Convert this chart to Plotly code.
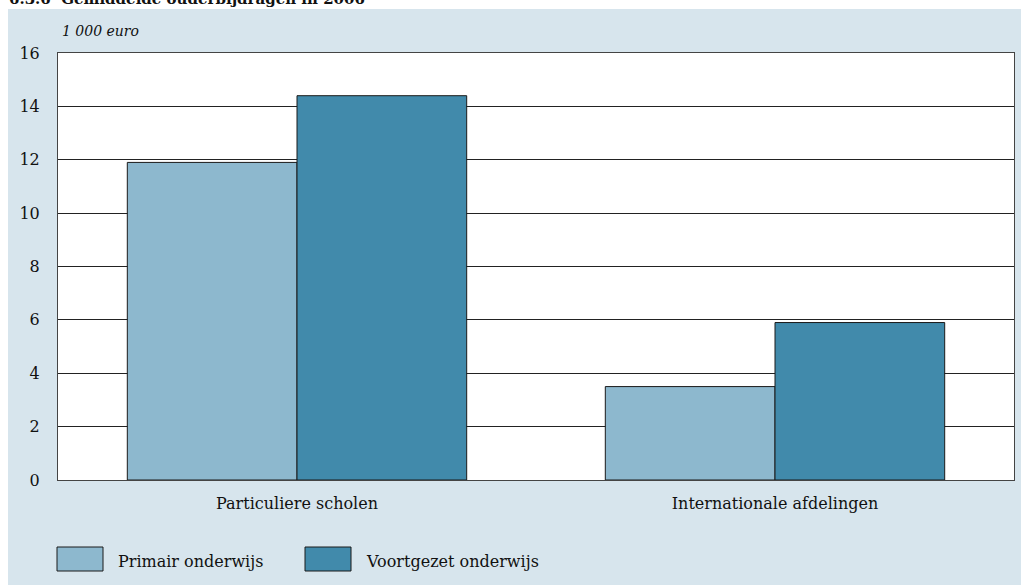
import plotly.graph_objects as go

categories = ["Particuliere scholen", "Internationale afdelingen"]
series_names = ["Primair onderwijs", "Voortgezet onderwijs"]
primair = [11.9, 3.5]
voortgezet = [14.4, 5.9]
y_ticks = [0, 2, 4, 6, 8, 10, 12, 14, 16]
colors = ["#8db8ce", "#418aab"]

W, H = 1021, 585
L, R, T, B = 58, 7, 53, 105
pw, ph = W - L - R, H - T - B

def px(x):
    return (x - L) / pw

def py(y):
    return (H - B - y) / ph

FONT = "DejaVu Serif"

fig = go.Figure()
for name, vals, col in zip(series_names, [primair, voortgezet], colors):
    fig.add_trace(go.Bar(x=categories, y=vals, name=name,
                         marker=dict(color=col, line=dict(color="#1a1a1a", width=1)),
                         showlegend=False))

shapes = [
    dict(type="rect", xref="paper", yref="paper", x0=px(0), x1=px(W), y0=py(0), y1=py(9),
         fillcolor="white", line=dict(width=0), layer="below"),
    dict(type="rect", xref="paper", yref="paper", x0=px(0), x1=px(8), y0=py(0), y1=py(H),
         fillcolor="white", line=dict(width=0), layer="below"),
]
annotations = [
    dict(text="<b>6.3.6  Gemiddelde ouderbijdragen in 2006</b>", xref="paper", yref="paper",
         x=px(7), y=py(10), xanchor="left", yanchor="bottom", showarrow=False,
         font=dict(family=FONT, size=15, color="#111")),
    dict(text="<i>1 000 euro</i>", xref="paper", yref="paper", x=px(60), y=py(31),
         xanchor="left", yanchor="middle", showarrow=False,
         font=dict(family=FONT, size=14, color="#111")),
]
legend_boxes = [(57, 103), (305, 351)]
for (x0, x1), name, col in zip(legend_boxes, series_names, colors):
    shapes.append(dict(type="rect", xref="paper", yref="paper", x0=px(x0), x1=px(x1),
                       y0=py(571), y1=py(547),
                       fillcolor=col, line=dict(color="#1a1a1a", width=1)))
    annotations.append(dict(text=name, xref="paper", yref="paper", x=px(x1 + 13), y=py(561),
                            xanchor="left", yanchor="middle", showarrow=False,
                            font=dict(family=FONT, size=16, color="#111")))

fig.update_layout(
    width=W, height=H,
    margin=dict(l=L, r=R, t=T, b=B, autoexpand=False),
    paper_bgcolor="#d7e5ed", plot_bgcolor="white",
    barmode="group", bargap=0.29, bargroupgap=0,
    font=dict(family=FONT, size=16, color="#111"),
    xaxis=dict(showgrid=False, showline=True, linecolor="#444", linewidth=1, mirror=True,
               ticks="", tickfont=dict(size=16), ticklabelstandoff=9),
    yaxis=dict(range=[0, 16], tickvals=y_ticks, showgrid=True, gridcolor="#222", gridwidth=1,
               showline=True, linecolor="#444", linewidth=1, mirror=True, zeroline=False,
               ticks="", tickfont=dict(size=16), ticklabelstandoff=14),
    shapes=shapes, annotations=annotations,
)

fig.write_html(
    "out.html",
    config={"displayModeBar": False},
    post_script="document.body.style.margin='0';document.body.style.overflow='hidden';",
)
